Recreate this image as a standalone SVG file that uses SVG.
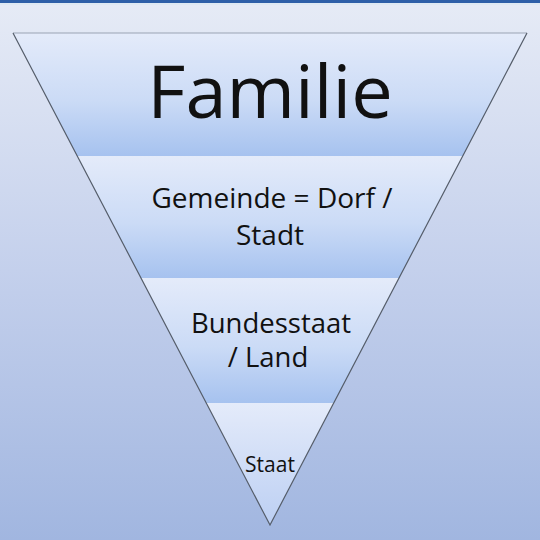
<svg xmlns="http://www.w3.org/2000/svg" width="540" height="540" viewBox="0 0 540 540">
<defs>
<linearGradient id="bg" x1="0" y1="0" x2="0" y2="1">
<stop offset="0" stop-color="#e6ebf6"/>
<stop offset="0.5" stop-color="#c4d0ec"/>
<stop offset="1" stop-color="#a1b6e0"/>
</linearGradient>
<linearGradient id="band" x1="0" y1="0" x2="0" y2="1">
<stop offset="0" stop-color="#e4ebfa"/>
<stop offset="0.55" stop-color="#cbdbf6"/>
<stop offset="1" stop-color="#a6c2ef"/>
</linearGradient>
<linearGradient id="band4" x1="0" y1="0" x2="0" y2="1">
<stop offset="0" stop-color="#e4ebfa"/>
<stop offset="1" stop-color="#bccff3"/>
</linearGradient>
<style>
.b{stroke:none}
.t{font-family:"Open Sans","Liberation Sans",sans-serif;fill:#111;text-anchor:middle}
</style>
</defs>
<rect width="540" height="540" fill="url(#bg)"/>
<rect width="540" height="3" fill="#2e5fa8"/>
<rect y="3" width="540" height="2" fill="#dfe9f3"/>
<g id="band1">
<polygon class="b" points="13,33 527,33 463,156 77,156" fill="url(#band)"/>
<text class="t" x="270" y="118" font-size="74">Familie</text>
</g>
<g id="band2">
<polygon class="b" points="77,156 463,156 399,278 141,278" fill="url(#band)"/>
<text class="t" x="272" y="208" font-size="28">Gemeinde = Dorf /</text>
<text class="t" x="270" y="245" font-size="28">Stadt</text>
</g>
<g id="band3">
<polygon class="b" points="141,278 399,278 334,403 206,403" fill="url(#band)"/>
<text class="t" x="271" y="333" font-size="27.5">Bundesstaat</text>
<text class="t" x="268" y="367" font-size="27.5">/ Land</text>
</g>
<g id="band4g">
<polygon class="b" points="206,403 334,403 270,525" fill="url(#band4)"/>
<text class="t" x="270" y="472" font-size="21">Staat</text>
</g>
<g id="outline" fill="none" stroke="#555d6a" stroke-width="1.2">
<line x1="13" y1="33" x2="527" y2="33" stroke="#9aa3b3"/>
<polyline points="13,33 270,525 527,33"/>
</g>
</svg>
